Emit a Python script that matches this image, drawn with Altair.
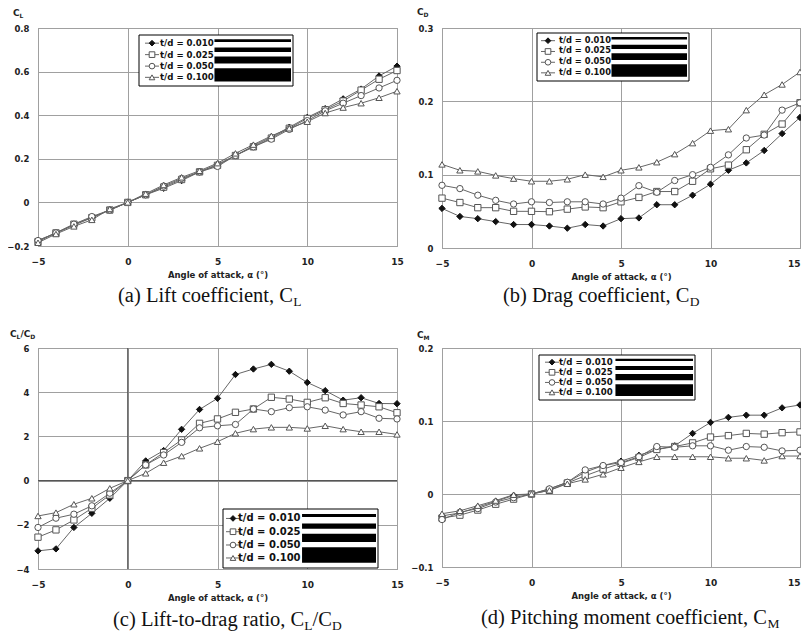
import altair as alt
import pandas as pd

# ---------------- data ----------------
alpha = list(range(-5, 16))
series = ["t/d = 0.010", "t/d = 0.025", "t/d = 0.050", "t/d = 0.100"]

cl_010 = [-0.175, -0.14, -0.105, -0.07, -0.035, 0.0, 0.035, 0.065, 0.10, 0.14, 0.175,
          0.215, 0.26, 0.30, 0.345, 0.39, 0.43, 0.475, 0.52, 0.58, 0.625]
cl_025 = [-0.18, -0.14, -0.10, -0.07, -0.035, 0.0, 0.035, 0.07, 0.105, 0.14, 0.17,
          0.215, 0.255, 0.295, 0.34, 0.385, 0.425, 0.465, 0.515, 0.565, 0.605]
cl_050 = [-0.175, -0.14, -0.10, -0.065, -0.035, 0.0, 0.035, 0.075, 0.11, 0.14, 0.165,
          0.215, 0.255, 0.29, 0.335, 0.375, 0.42, 0.455, 0.49, 0.525, 0.56]
cl_100 = [-0.185, -0.145, -0.11, -0.08, -0.03, 0.0, 0.04, 0.08, 0.115, 0.145, 0.18,
          0.225, 0.265, 0.305, 0.34, 0.37, 0.41, 0.435, 0.455, 0.48, 0.51]

cd_010 = [0.054, 0.043, 0.040, 0.036, 0.032, 0.032, 0.030, 0.027, 0.032, 0.030, 0.040,
          0.041, 0.059, 0.059, 0.072, 0.087, 0.106, 0.116, 0.133, 0.156, 0.178]
cd_025 = [0.068, 0.062, 0.055, 0.055, 0.050, 0.050, 0.0495, 0.053, 0.056, 0.055, 0.063,
          0.069, 0.077, 0.077, 0.091, 0.108, 0.113, 0.134, 0.155, 0.169, 0.198]
cd_050 = [0.0855, 0.081, 0.072, 0.065, 0.060, 0.063, 0.062, 0.063, 0.063, 0.060, 0.068,
          0.085, 0.076, 0.092, 0.100, 0.110, 0.127, 0.150, 0.154, 0.188, 0.198]
cd_100 = [0.114, 0.106, 0.1045, 0.099, 0.0946, 0.091, 0.091, 0.0937, 0.100, 0.097, 0.106,
          0.110, 0.117, 0.128, 0.143, 0.160, 0.162, 0.188, 0.209, 0.223, 0.240]

ld_010 = [-3.18, -3.09, -2.12, -1.48, -0.80, 0.0, 0.89, 1.36, 2.32, 3.22, 3.72,
          4.80, 5.05, 5.26, 4.95, 4.44, 4.07, 3.64, 3.75, 3.49, 3.48]
ld_025 = [-2.56, -2.23, -1.78, -1.25, -0.65, 0.0, 0.71, 1.27, 1.84, 2.59, 2.79,
          3.09, 3.24, 3.77, 3.69, 3.54, 3.75, 3.49, 3.42, 3.34, 3.07]
ld_050 = [-2.12, -1.70, -1.52, -1.14, -0.57, 0.0, 0.71, 1.16, 1.73, 2.39, 2.48,
          2.54, 3.24, 3.12, 3.30, 3.34, 3.19, 2.97, 3.12, 2.82, 2.79]
ld_100 = [-1.60, -1.45, -1.07, -0.80, -0.35, 0.0, 0.33, 0.81, 1.11, 1.46, 1.76,
          2.14, 2.33, 2.41, 2.41, 2.36, 2.48, 2.33, 2.21, 2.21, 2.09]

cm_010 = [-0.030, -0.026, -0.018, -0.010, -0.002, 0.0, 0.007, 0.016, 0.030, 0.039, 0.045,
          0.053, 0.061, 0.066, 0.083, 0.098, 0.105, 0.108, 0.108, 0.118, 0.122]
cm_025 = [-0.033, -0.029, -0.022, -0.014, -0.007, 0.0, 0.005, 0.015, 0.025, 0.034, 0.042,
          0.050, 0.061, 0.065, 0.070, 0.078, 0.080, 0.083, 0.082, 0.084, 0.085]
cm_050 = [-0.035, -0.025, -0.020, -0.011, -0.005, 0.0, 0.007, 0.016, 0.033, 0.039, 0.043,
          0.051, 0.065, 0.064, 0.066, 0.066, 0.060, 0.065, 0.064, 0.059, 0.060]
cm_100 = [-0.027, -0.023, -0.016, -0.009, -0.001, 0.0, 0.005, 0.014, 0.020, 0.027, 0.036,
          0.044, 0.051, 0.051, 0.051, 0.051, 0.049, 0.049, 0.046, 0.052, 0.052]

x_ticks = [-5, 0, 5, 10, 15]
cl_ticks = [-0.2, 0.0, 0.2, 0.4, 0.6, 0.8]
cd_ticks = [0.0, 0.1, 0.2, 0.3]
ld_ticks = [-4, -2, 0, 2, 4, 6]
cm_ticks = [-0.1, 0.0, 0.1, 0.2]

x_title = "Angle of attack, α (°)"

# ---------------- styling ----------------
SANS = "DejaVu Sans"
SERIF = "Liberation Serif"
shapes = ["diamond", "square", "circle", "triangle-up"]
fills = ["#111111", "white", "white", "white"]
strokes = ["#111111", "#555555", "#555555", "#555555"]

W_SANS_B = {"C": 0.734, "L": 0.637, "D": 0.830, "M": 0.995, "/": 0.365}
W_SERIF = {"(": 0.333, ")": 0.333, " ": 0.25, ",": 0.25, "-": 0.333, "/": 0.278,
           "a": 0.444, "b": 0.5, "c": 0.444, "d": 0.5, "e": 0.444, "f": 0.333,
           "g": 0.5, "h": 0.5, "i": 0.278, "m": 0.778, "n": 0.5, "o": 0.5,
           "r": 0.333, "t": 0.278, "C": 0.667, "D": 0.722, "L": 0.611, "M": 0.889,
           "P": 0.556}


def text_width(s, table, size):
    return sum(table.get(ch, 0.55) for ch in s) * size


def rich(segments, x0, y0, size, sub_size, table, sub_dy):
    rows = []
    x = x0
    for txt, sub in segments:
        fs = sub_size if sub else size
        rows.append(dict(tx=x, ty=y0 + (sub_dy if sub else 0), t=txt, fs=fs))
        x += text_width(txt, table, fs)
    return pd.DataFrame(rows)


def long_df(cols):
    rows = []
    for s, vals in zip(series, cols):
        for a, v in zip(alpha, vals):
            rows.append({"alpha": a, "val": v, "series": s})
    return pd.DataFrame(rows)


shape_enc = alt.Shape("series:N", scale=alt.Scale(domain=series, range=shapes), legend=None)
fill_enc = alt.Fill("series:N", scale=alt.Scale(domain=series, range=fills), legend=None)
stroke_enc = alt.Stroke("series:N", scale=alt.Scale(domain=series, range=strokes), legend=None)

ROW_F = [0.16, 0.385, 0.61, 0.83]
BAR_C = [0.11, 0.29, 0.49, 0.78]
BAR_T = [0.05, 0.09, 0.14, 0.26]


def px(field):
    return alt.X(field, scale=None, axis=None)


def py(field):
    return alt.Y(field, scale=None, axis=None)


def panel(cols, ydom, yvals, yexpr, w, h, box, leg, ytitle, ytitle_xy,
          caption, caption_xy, right_col=False, dark_zero=False):
    df = long_df(cols)
    if right_col:
        lab_align = {"condition": {"test": "datum.value == 15", "value": "right"},
                     "value": "center"}
    else:
        lab_align = "center"
    xaxis = alt.Axis(values=x_ticks, title=x_title, grid=True, ticks=False, domain=False,
                     gridColor="#a0a0a0", gridWidth=1, labelFont=SANS, labelFontWeight="bold",
                     labelFontSize=9, labelColor="#222", labelPadding=11,
                     labelAlign=lab_align,
                     titleFont=SANS, titleFontWeight="bold", titleFontSize=8.5,
                     titleColor="#222", titlePadding=4)
    yaxis = alt.Axis(values=yvals, labelExpr=yexpr, title=None, grid=True, ticks=False,
                     domain=False, gridColor="#a0a0a0", gridWidth=1, labelFont=SANS,
                     labelFontWeight="bold", labelFontSize=8.5, labelColor="#222",
                     labelPadding=9)
    x = alt.X("alpha:Q", scale=alt.Scale(domain=[-5, 15], nice=False), axis=xaxis)
    y = alt.Y("val:Q", scale=alt.Scale(domain=ydom, nice=False, zero=False), axis=yaxis)

    layers = []
    if dark_zero:
        zdf = pd.DataFrame({"alpha": [0.0], "val": [0.0]})
        layers.append(alt.Chart(zdf).mark_rule(color="#555", strokeWidth=1.2).encode(y=y))
        layers.append(alt.Chart(zdf).mark_rule(color="#555", strokeWidth=1.2).encode(x=x))

    layers.append(alt.Chart(df).mark_line(color="#666666", strokeWidth=1)
                  .encode(x=x, y=y, detail="series:N"))
    layers.append(alt.Chart(df).mark_point(filled=True, size=40, strokeWidth=1, opacity=1)
                  .encode(x=x, y=y, shape=shape_enc, fill=fill_enc, stroke=stroke_enc))

    # legend (drawn as an annotation box like the original figure)
    bx, by, bw, bh = box
    mk, tx, bar_f, fs = leg
    bdf = pd.DataFrame({"x1": [bx], "x2": [bx + bw], "y1": [by], "y2": [by + bh]})
    layers.append(alt.Chart(bdf).mark_rect(fill="white", stroke="black", strokeWidth=1)
                  .encode(x=px("x1:Q"), x2="x2:Q", y=py("y1:Q"), y2="y2:Q"))
    ldf = pd.DataFrame({
        "series": series,
        "ly": [by + bh * f for f in ROW_F],
        "sx1": [bx + mk - 7] * 4, "sx2": [bx + mk + 7] * 4, "mx": [bx + mk] * 4,
        "tx": [bx + tx] * 4,
        "bx1": [bx + bw * bar_f] * 4, "bx2": [bx + bw - 2] * 4,
        "by1": [by + bh * (c - t / 2) for c, t in zip(BAR_C, BAR_T)],
        "by2": [by + bh * (c + t / 2) for c, t in zip(BAR_C, BAR_T)],
    })
    layers.append(alt.Chart(ldf).mark_rule(color="#666666", strokeWidth=1)
                  .encode(x=px("sx1:Q"), x2="sx2:Q", y=py("ly:Q")))
    layers.append(alt.Chart(ldf).mark_point(filled=True, size=32, strokeWidth=1, opacity=1)
                  .encode(x=px("mx:Q"), y=py("ly:Q"), shape=shape_enc, fill=fill_enc,
                          stroke=stroke_enc))
    layers.append(alt.Chart(ldf).mark_text(align="left", baseline="middle", font=SANS,
                                           fontWeight="bold", fontSize=fs, color="#111")
                  .encode(x=px("tx:Q"), y=py("ly:Q"), text="series:N"))
    layers.append(alt.Chart(ldf).mark_rect(color="black")
                  .encode(x=px("bx1:Q"), x2="bx2:Q", y=py("by1:Q"), y2="by2:Q"))

    # y title (C with subscript)
    tdf = rich(ytitle, ytitle_xy[0], ytitle_xy[1], 9, 6, W_SANS_B, 2)
    layers.append(alt.Chart(tdf).mark_text(align="left", baseline="alphabetic", font=SANS,
                                           fontWeight="bold", color="#222")
                  .encode(x=px("tx:Q"), y=py("ty:Q"), text="t:N",
                          size=alt.Size("fs:Q", scale=None, legend=None)))
    # caption below the panel
    cdf = rich(caption, caption_xy[0], caption_xy[1], 20.5, 13.5, W_SERIF, 3.5)
    layers.append(alt.Chart(cdf).mark_text(align="left", baseline="alphabetic", font=SERIF,
                                           color="#111")
                  .encode(x=px("tx:Q"), y=py("ty:Q"), text="t:N",
                          size=alt.Size("fs:Q", scale=None, legend=None)))

    return alt.layer(*layers).properties(width=w, height=h)


expr_1 = "datum.value == 0 ? '0' : format(datum.value, '.1f')"
expr_int = "format(datum.value, 'd')"

pa = panel([cl_010, cl_025, cl_050, cl_100], [-0.2, 0.8], cl_ticks, expr_1, 359, 218,
           (101, 7, 154, 51), (13, 21, 0.49, 8.6), [("C", False), ("L", True)], (-25, -12),
           [("(a) Lift coefficient, C", False), ("L", True)], (80, 274))
pb = panel([cd_010, cd_025, cd_050, cd_100], [0.0, 0.3], cd_ticks, expr_1, 358, 220,
           (95, 5, 152, 48), (11, 22, 0.49, 8.3), [("C", False), ("D", True)], (-25, -13),
           [("(b) Drag coefficient, C", False), ("D", True)], (61, 274), right_col=True)
pc = panel([ld_010, ld_025, ld_050, ld_100], [-4, 6], ld_ticks, expr_int, 359, 221,
           (185, 161, 155, 59), (10, 15, 0.51, 10), [("C", False), ("L", True), ("/C", False), ("D", True)],
           (-28, -11),
           [("(c) Lift-to-drag ratio, C", False), ("L", True), ("/C", False), ("D", True)],
           (75, 278), dark_zero=True)
pd_ = panel([cm_010, cm_025, cm_050, cm_100], [-0.1, 0.2], cm_ticks, expr_1, 358, 219,
            (97, 7, 156, 45), (13, 20, 0.49, 8.6), [("C", False), ("M", True)], (-25, -10),
            [("(d) Pitching moment coefficient, C", False), ("M", True)], (39, 276),
            right_col=True)

chart = alt.concat(pa, pb, pc, pd_, columns=2, spacing={"row": 100, "column": 45},
                   bounds="flush", align="none").properties(
    autosize=alt.AutoSizeParams(type="none"),
    padding={"left": 30, "top": 20, "right": 763, "bottom": 603},
    background="white",
).configure_view(stroke="#8a8a8a", strokeWidth=1)

chart.save("out.html", embed_options={"renderer": "svg", "actions": False})
